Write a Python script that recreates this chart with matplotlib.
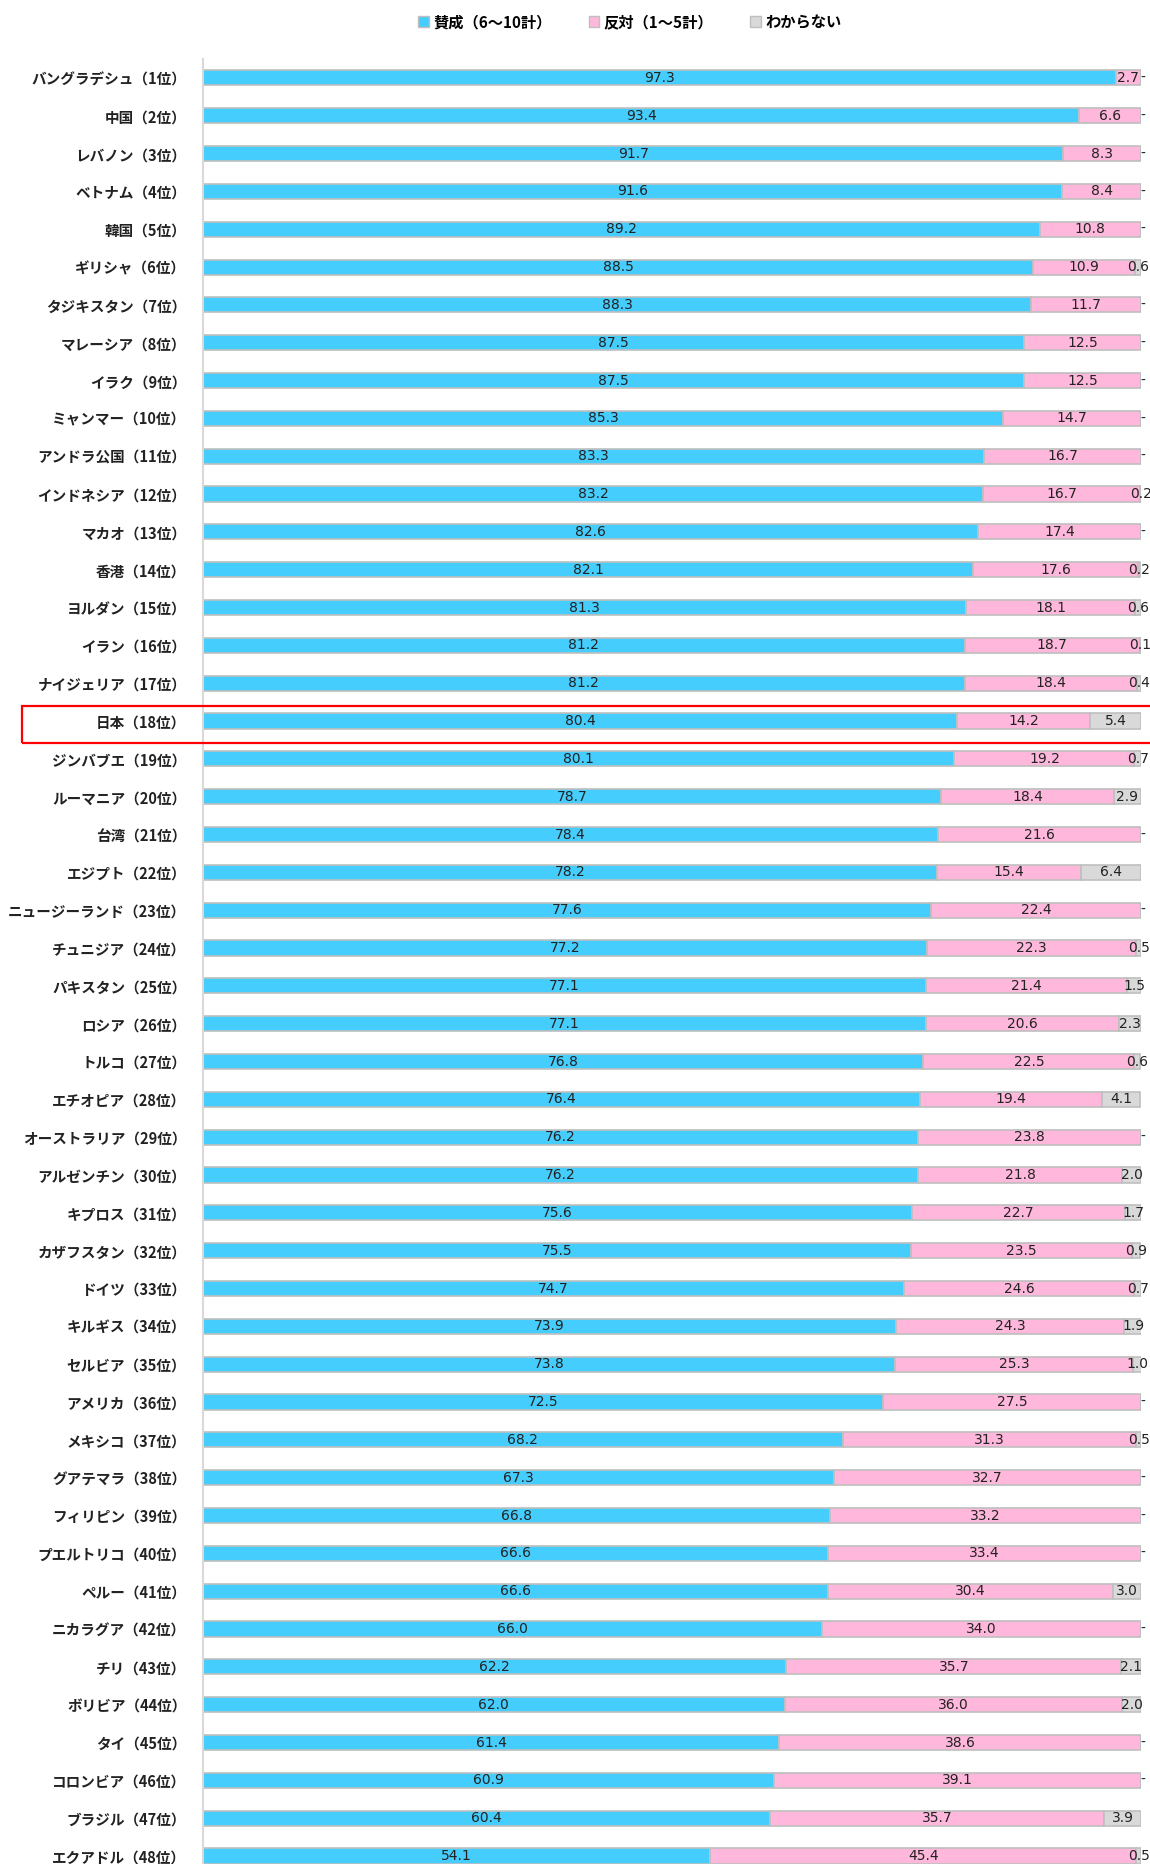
import matplotlib
matplotlib.use("Agg")
import matplotlib.pyplot as plt
from matplotlib.patches import Patch, Rectangle
import matplotlib.transforms as mtransforms

plt.rcParams['font.family'] = ['Noto Sans CJK JP', 'DejaVu Sans']

countries = [
    "バングラデシュ", "中国", "レバノン", "ベトナム", "韓国", "ギリシャ",
    "タジキスタン", "マレーシア", "イラク", "ミャンマー", "アンドラ公国",
    "インドネシア", "マカオ", "香港", "ヨルダン", "イラン", "ナイジェリア",
    "日本", "ジンバブエ", "ルーマニア", "台湾", "エジプト", "ニュージーランド",
    "チュニジア", "パキスタン", "ロシア", "トルコ", "エチオピア", "オーストラリア",
    "アルゼンチン", "キプロス", "カザフスタン", "ドイツ", "キルギス", "セルビア",
    "アメリカ", "メキシコ", "グアテマラ", "フィリピン", "プエルトリコ", "ペルー",
    "ニカラグア", "チリ", "ボリビア", "タイ", "コロンビア", "ブラジル", "エクアドル",
]

agree = [97.3, 93.4, 91.7, 91.6, 89.2, 88.5, 88.3, 87.5, 87.5, 85.3, 83.3, 83.2,
         82.6, 82.1, 81.3, 81.2, 81.2, 80.4, 80.1, 78.7, 78.4, 78.2, 77.6, 77.2,
         77.1, 77.1, 76.8, 76.4, 76.2, 76.2, 75.6, 75.5, 74.7, 73.9, 73.8, 72.5,
         68.2, 67.3, 66.8, 66.6, 66.6, 66.0, 62.2, 62.0, 61.4, 60.9, 60.4, 54.1]

disagree = [2.7, 6.6, 8.3, 8.4, 10.8, 10.9, 11.7, 12.5, 12.5, 14.7, 16.7, 16.7,
            17.4, 17.6, 18.1, 18.7, 18.4, 14.2, 19.2, 18.4, 21.6, 15.4, 22.4, 22.3,
            21.4, 20.6, 22.5, 19.4, 23.8, 21.8, 22.7, 23.5, 24.6, 24.3, 25.3, 27.5,
            31.3, 32.7, 33.2, 33.4, 30.4, 34.0, 35.7, 36.0, 38.6, 39.1, 35.7, 45.4]

# None = no answer recorded ("-")
unknown = [None, None, None, None, None, 0.6, None, None, None, None, None, 0.2,
           None, 0.2, 0.6, 0.1, 0.4, 5.4, 0.7, 2.9, None, 6.4, None, 0.5,
           1.5, 2.3, 0.6, 4.1, None, 2.0, 1.7, 0.9, 0.7, 1.9, 1.0, None,
           0.5, None, None, None, 3.0, None, 2.1, 2.0, None, None, 3.9, 0.5]

series_names = ["賛成（6～10計）", "反対（1～5計）", "わからない"]
colors = ["#45CDFD", "#FFB7DB", "#D9D9D9"]
highlight = "日本"

labels = [f"{c}（{i + 1}位）" for i, c in enumerate(countries)]
unk_vals = [u if u is not None else 0 for u in unknown]

fig = plt.figure(figsize=(11.5, 18.64), dpi=100)
ax = fig.add_axes([203 / 1150, 0, (1141 - 203) / 1150, (1864 - 59) / 1864])

y = list(range(len(countries)))
bh = 0.4
edge = "#BFBFBF"
ax.barh(y, agree, height=bh, color=colors[0], edgecolor=edge, linewidth=1.2)
ax.barh(y, disagree, left=agree, height=bh, color=colors[1], edgecolor=edge, linewidth=1.2)
left2 = [a + d for a, d in zip(agree, disagree)]
ax.barh(y, unk_vals, left=left2, height=bh, color=colors[2], edgecolor=edge, linewidth=1.2)

txt = dict(ha="center", va="center", fontsize=10, color="#222222",
           family=["DejaVu Sans"], clip_on=False)
for i in y:
    ax.text(agree[i] / 2, i, f"{agree[i]:.1f}", **txt)
    ax.text(agree[i] + disagree[i] / 2, i, f"{disagree[i]:.1f}", **txt)
    if unknown[i] is None:
        ax.text(100.2, i, "-", **txt)
    else:
        ax.text(left2[i] + unknown[i] / 2, i, f"{unknown[i]:.1f}", **txt)

ax.set_xlim(0, 100)
ax.set_ylim(47 + 8 / 37.85, -0.5)
ax.set_yticks(y)
ax.set_yticklabels(labels, fontsize=10.5, fontweight="bold", color="#222222")
ax.tick_params(axis="y", length=0, pad=12)
ax.set_xticks([])
for s in ["top", "right", "bottom"]:
    ax.spines[s].set_visible(False)
ax.spines["left"].set_color("#D9D9D9")
ax.spines["left"].set_linewidth(1.5)

# red frame around Japan's row
j = countries.index(highlight)
trans = mtransforms.blended_transform_factory(fig.transFigure, ax.transData)
fig.patches.append(Rectangle((22 / 1150, j + 0.59), 1.2, -1.0, transform=trans,
                             fill=False, edgecolor="red", linewidth=1.6))

handles = [Patch(facecolor=c, edgecolor="#BFBFBF") for c in colors]
leg = fig.legend(handles, series_names, loc="center", ncol=3,
                 bbox_to_anchor=(630 / 1150, 1 - 22 / 1864), frameon=False,
                 handlelength=0.7, handleheight=0.7, handletextpad=0.3,
                 columnspacing=2.4, prop={"size": 11, "weight": "bold"})

fig.savefig("out.png", dpi=100)
